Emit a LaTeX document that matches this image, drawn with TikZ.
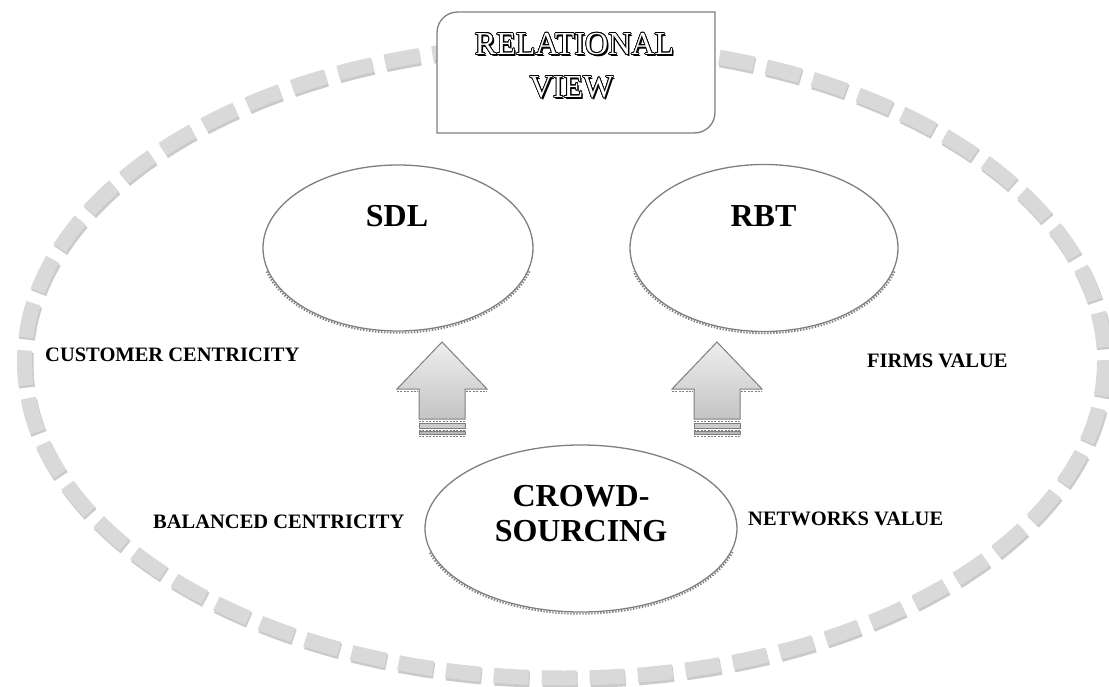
\documentclass[tikz,border=0pt]{standalone}
\usepackage{fontspec}
\setmainfont{Liberation Serif}
\usepackage[copies]{contour}
\contourlength{0.8pt}
\contournumber{16}
\usetikzlibrary{shapes.geometric}

\definecolor{edge}{HTML}{7F7F7F}
\definecolor{dashmain}{HTML}{D9D9D9}
\definecolor{dashshade}{HTML}{CACACA}
\definecolor{arrowtop}{HTML}{EEEEEE}
\definecolor{arrowbot}{HTML}{C4C4C4}

% dotted rim under the lower half of an ellipse: centre x, centre y, x radius, y radius
\newcommand\rimshadow[4]{%
  \draw[edge, line width=1.8pt, dash pattern=on 1.4pt off 1.6pt]
    plot[domain=16:164, samples=90, smooth] ({#1+(#3+1.8)*cos(\x)}, {#2+(#4+1.8)*sin(\x)});
}

% engraved title line: black drop shadow under white letters with a black outline
\newcommand\engraved[1]{%
  \rlap{\kern1.6pt\raisebox{-1.6pt}{\textcolor{black}{#1}}}\contour{black}{#1}%
}

\tikzset{
  bubble/.style={ellipse, draw=edge, line width=1.3pt, fill=white, inner sep=0pt},
  sidelabel/.style={font=\bfseries\fontsize{20.5}{22}\selectfont, inner sep=0pt, anchor=base west},
  bigtext/.style={font=\bfseries\fontsize{32}{35}\selectfont, inner sep=0pt, anchor=base},
  titletext/.style={font=\fontsize{32}{34}\selectfont, inner sep=0pt, text=white},
  rimline/.style={edge, line width=0.8pt, dash pattern=on 2pt off 1.4pt},
  uparrow/.pic={
    \path[draw=edge, line width=1pt, top color=arrowtop, bottom color=arrowbot]
      (0,0) -- (45,47) -- (23,47) -- (23,77) -- (-23,77) -- (-23,47) -- (-45,47) -- cycle;
    \draw[rimline] (-45,49.5) -- (-24,49.5);
    \draw[rimline] (24,49.5) -- (45,49.5);
    \draw[rimline] (-23,79) -- (23,79);
    \filldraw[fill=gray!40, draw=edge, line width=0.6pt] (-23,81) rectangle (23,86);
    \draw[rimline] (-23,88) -- (23,88);
    \filldraw[fill=gray!55, draw=edge, line width=0.6pt] (-23,89.5) rectangle (23,92.5);
    \draw[rimline] (-23,94.5) -- (23,94.5);
  }
}

\begin{document}
\begin{tikzpicture}[x=1pt, y=-1pt]
\useasboundingbox (0,0) rectangle (1109,687);

% outer dashed ring with its soft shade
\coordinate (ring) at (564.5,361);
\draw[dashshade, line width=16pt, dash pattern=on 35pt off 13.03pt]
  ([shift={(1,2.2)}]ring) ellipse [x radius=540, y radius=317];
\draw[dashmain, line width=15pt, dash pattern=on 35pt off 13.03pt]
  (ring) ellipse [x radius=540, y radius=317];

% title box: rounded top-left and bottom-right corners
\path[draw=edge, line width=1.3pt, fill=white]
  (437,133) -- (437,33) .. controls (437,21) and (446,12) .. (458,12)
  -- (715,12) -- (715,112) .. controls (715,124) and (706,133) .. (694,133) -- cycle;
\node[titletext] (title1) at (574.5,45) {\engraved{RELATIONAL}};
\node[titletext] (title2) at (571.5,88) {\engraved{VIEW}};

% the three ellipses
\node[bubble, minimum width=270pt, minimum height=166pt] (sdl) at (398,248) {};
\node[bubble, minimum width=268pt, minimum height=167pt] (rbt) at (764,248) {};
\node[bubble, minimum width=312pt, minimum height=167pt] (crowd) at (581,528.5) {};
\rimshadow{398}{248}{135}{83}
\rimshadow{764}{248}{134}{83.5}
\rimshadow{581}{528.5}{156}{83.5}

% block arrows pointing from the lower ellipse to the upper ones
\coordinate (tipL) at (442,342);
\coordinate (tipR) at (717,342);
\pic at (tipL) {uparrow};
\pic at (tipR) {uparrow};

% texts inside the ellipses
\node[bigtext] (sdltext) at (397,227) {SDL};
\node[bigtext] (rbttext) at (763.5,227) {RBT};
\node[bigtext] (crowd1) at (581,506) {CROWD-};
\node[bigtext] (crowd2) at (581,541) {SOURCING};

% side labels
\node[sidelabel] (cust) at (45,361) {CUSTOMER CENTRICITY};
\node[sidelabel] (firms) at (867,367) {FIRMS VALUE};
\node[sidelabel] (bal) at (153,528) {BALANCED CENTRICITY};
\node[sidelabel] (net) at (748,525) {NETWORKS VALUE};
\end{tikzpicture}
\end{document}
